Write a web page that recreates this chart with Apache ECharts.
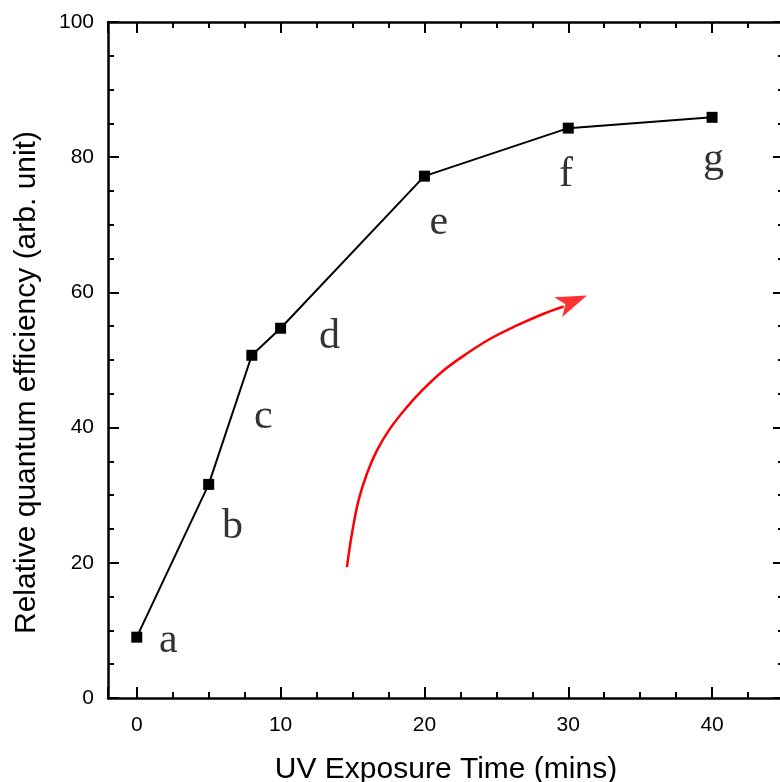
<!DOCTYPE html>
<html>
<head>
<meta charset="utf-8">
<script src="https://cdn.jsdelivr.net/npm/echarts@6/dist/echarts.min.js"></script>
<style>
  html, body { margin: 0; padding: 0; background: #fff; }
  #chart { width: 780px; height: 782px; }
</style>
</head>
<body>
<div id="chart"></div>
<script>
// Data
const exposureTime = [0, 5, 8, 10, 20, 30, 40];
const efficiency = [9.0, 31.6, 50.7, 54.7, 77.2, 84.3, 85.9];

// Letter annotations (data coordinates)
const letters = ['a', 'b', 'c', 'd', 'e', 'f', 'g'];
const letterX = [2.2, 6.65, 8.8, 13.4, 21.0, 29.85, 40.1];
const letterY = [8.5, 25.3, 41.5, 53.4, 70.2, 77.3, 79.6];

// Red arrow path (data coordinates)
const arrowX = [14.61, 14.96, 15.42, 16.00, 16.70, 17.62, 18.78, 19.94, 21.33, 22.96, 24.58, 26.43, 28.29, 29.68];
const arrowY = [19.37, 24.31, 29.23, 33.18, 36.63, 39.88, 43.03, 45.72, 48.46, 50.97, 53.14, 55.11, 56.84, 57.92];
const arrowTip = [31.30, 59.54];

const xTicksLabel = v => (Math.abs(v % 10) < 1e-9 ? String(v) : '');

const chart = echarts.init(document.getElementById('chart'), null, { renderer: 'canvas' });

const axisBase = {
  type: 'value',
  axisLine: { show: true, onZero: false, lineStyle: { color: '#000', width: 2.5 } },
  axisTick: { show: true, inside: true, length: 11, lineStyle: { color: '#000', width: 2 } },
  minorTick: { show: true, splitNumber: 4, length: 6, lineStyle: { color: '#000', width: 2 } },
  splitLine: { show: false },
  minorSplitLine: { show: false }
};

const option = {
  animation: false,
  backgroundColor: '#fff',
  grid: { left: 108, right: -4, top: 22, bottom: 84, containLabel: false, outerBoundsMode: 'none' },
  xAxis: [
    Object.assign({}, axisBase, {
      position: 'bottom',
      min: -2, max: 45, splitNumber: 5,
      axisLabel: { formatter: xTicksLabel, fontSize: 21, color: '#000', margin: 17, fontFamily: 'Liberation Sans' },
      name: 'UV Exposure Time (mins)',
      nameLocation: 'middle',
      nameGap: 57,
      nameTextStyle: { fontSize: 30, color: '#000', fontFamily: 'Liberation Sans' }
    }),
    Object.assign({}, axisBase, {
      position: 'top',
      min: -2, max: 45, splitNumber: 5,
      axisLabel: { show: false }
    })
  ],
  yAxis: [
    Object.assign({}, axisBase, {
      position: 'left',
      min: 0, max: 100, interval: 20,
      axisLabel: { fontSize: 21, color: '#000', margin: 14, fontFamily: 'Liberation Sans' },
      name: 'Relative quantum efficiency (arb. unit)',
      nameLocation: 'middle',
      nameGap: 66,
      nameTextStyle: { fontSize: 30, color: '#000', fontFamily: 'Liberation Sans', padding: [0, 45, 0, 0] }
    }),
    Object.assign({}, axisBase, {
      position: 'right',
      min: 0, max: 100, interval: 20,
      axisLabel: { show: false }
    })
  ],
  series: [
    {
      type: 'line',
      xAxisIndex: 0, yAxisIndex: 0,
      data: exposureTime.map((x, i) => [x, efficiency[i]]),
      symbol: 'rect',
      symbolSize: 11,
      showSymbol: true,
      lineStyle: { color: '#000', width: 2 },
      itemStyle: { color: '#000' },
      z: 3
    },
    {
      type: 'scatter',
      data: letters.map((t, i) => ({ value: [letterX[i], letterY[i]], name: t })),
      symbolSize: 0,
      label: {
        show: true,
        position: 'inside',
        formatter: p => p.name,
        fontFamily: 'Liberation Serif',
        fontSize: 42,
        color: '#000',
        align: 'center',
        verticalAlign: 'middle'
      },
      silent: true,
      z: 4
    },
    {
      type: 'line',
      data: arrowX.map((x, i) => [x, arrowY[i]]),
      smooth: 0.4,
      showSymbol: false,
      symbol: 'none',
      lineStyle: { color: '#ff0000', width: 2.5 },
      silent: true,
      z: 2
    },
    {
      type: 'scatter',
      data: [arrowTip],
      symbol: 'arrow',
      symbolSize: [16, 31],
      symbolRotate: -68,
      itemStyle: { color: '#ff0000' },
      silent: true,
      z: 2
    }
  ]
};

chart.setOption(option);
</script>
</body>
</html>
